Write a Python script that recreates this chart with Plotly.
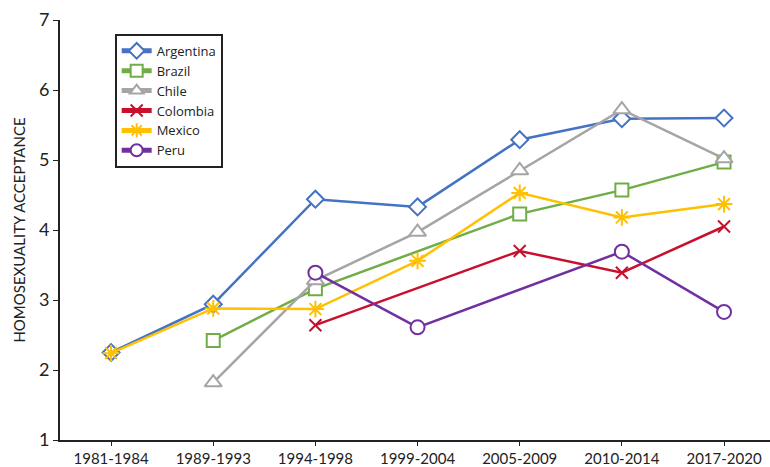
import plotly.graph_objects as go

periods = ["1981-1984", "1989-1993", "1994-1998", "1999-2004", "2005-2009", "2010-2014", "2017-2020"]
argentina = [2.25, 2.94, 4.44, 4.33, 5.29, 5.59, 5.60]
brazil = [None, 2.42, 3.16, None, 4.23, 4.57, 4.97]
chile = [None, 1.82, 3.28, 3.97, 4.85, 5.72, 5.02]
colombia = [None, None, 2.64, None, 3.70, 3.39, 4.05]
mexico = [2.24, 2.88, 2.87, 3.56, 4.53, 4.18, 4.37]
peru = [None, None, 3.39, 2.61, None, 3.69, 2.83]

series = [
    ("Argentina", argentina, "#4472C4", "diamond", 13, "white"),
    ("Brazil", brazil, "#70AD47", "square", 13, "white"),
    ("Chile", chile, "#A5A5A5", "triangle-up", 15, "white"),
    ("Colombia", colombia, "#C8102E", "x-thin", 12, None),
    ("Mexico", mexico, "#FFC000", "asterisk", 14, None),
    ("Peru", peru, "#7030A0", "circle", 14, "white"),
]

fig = go.Figure()
for name, vals, color, sym, size, fill in series:
    fig.add_trace(go.Scatter(
        x=list(range(len(periods))), y=vals, name=name, mode="lines+markers",
        connectgaps=True,
        line=dict(color=color, width=2.5),
        marker=dict(symbol=sym, size=size, color=fill if fill else color,
                    line=dict(color=color, width=2)),
    ))

fig.update_layout(
    width=770, height=467,
    margin=dict(l=60, r=0, t=20, b=25),
    paper_bgcolor="white", plot_bgcolor="white",
    font=dict(family="Lato, Liberation Sans, sans-serif", color="#222"),
    showlegend=True,
    legend=dict(
        x=0.077, y=0.967, xanchor="left", yanchor="top",
        bordercolor="#222", borderwidth=2, bgcolor="white",
        font=dict(family="Open Sans, sans-serif", size=13, color="#222"), tracegroupgap=0,
        itemwidth=30, itemsizing="constant",
    ),
    xaxis=dict(
        range=[-0.5, 6.45],
        tickmode="array", tickvals=list(range(len(periods))), ticktext=periods,
        showgrid=False, zeroline=False,
        showline=True, linecolor="#222", linewidth=2,
        ticks="outside", ticklen=4, tickcolor="#222",
        tickfont=dict(size=15),
    ),
    yaxis=dict(
        range=[1, 7], dtick=1,
        showgrid=False, zeroline=False,
        showline=True, linecolor="#222", linewidth=2,
        ticks="outside", ticklen=5, tickcolor="#222",
        tickfont=dict(size=18),
        title=dict(text="HOMOSEXUALITY ACCEPTANCE", font=dict(size=15), standoff=10),
    ),
)

fig.write_html("out.html")
